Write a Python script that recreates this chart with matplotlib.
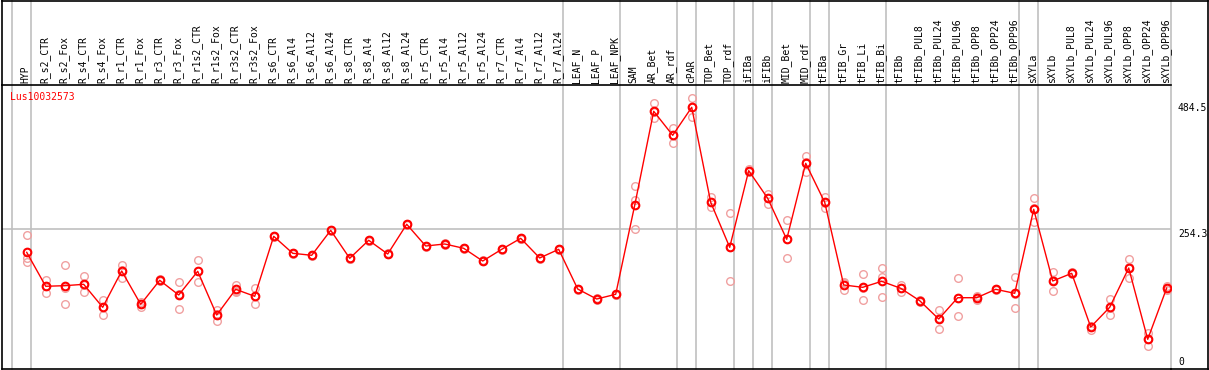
import matplotlib
matplotlib.use('Agg')
import matplotlib.pyplot as plt
import matplotlib.transforms as mtransforms
from matplotlib.lines import Line2D
import numpy as np

gene = 'Lus10032573'

samples = ['HYP', 'R_s2_CTR', 'R_s2_Fox', 'R_s4_CTR', 'R_s4_Fox', 'R_r1_CTR', 'R_r1_Fox',
           'R_r3_CTR', 'R_r3_Fox', 'R_r1s2_CTR', 'R_r1s2_Fox', 'R_r3s2_CTR', 'R_r3s2_Fox',
           'R_s6_CTR', 'R_s6_Al4', 'R_s6_Al12', 'R_s6_Al24', 'R_s8_CTR', 'R_s8_Al4',
           'R_s8_Al12', 'R_s8_Al24', 'R_r5_CTR', 'R_r5_Al4', 'R_r5_Al12', 'R_r5_Al24',
           'R_r7_CTR', 'R_r7_Al4', 'R_r7_Al12', 'R_r7_Al24', 'LEAF_N', 'LEAF_P', 'LEAF_NPK',
           'SAM', 'AR_Bet', 'AR_rdf', 'cPAR', 'TOP_Bet', 'TOP_rdf', 'iFIBa', 'iFIBb',
           'MID_Bet', 'MID_rdf', 'tFIBa', 'tFIB_Gr', 'tFIB_Li', 'tFIB_Bi', 'tFIBb',
           'tFIBb_PUL8', 'tFIBb_PUL24', 'tFIBb_PUL96', 'tFIBb_OPP8', 'tFIBb_OPP24',
           'tFIBb_OPP96', 'sXYLa', 'sXYLb', 'sXYLb_PUL8', 'sXYLb_PUL24', 'sXYLb_PUL96',
           'sXYLb_OPP8', 'sXYLb_OPP24', 'sXYLb_OPP96']

means = [210.7, 148.3, 149.4, 151.9, 109.7, 176.4, 115.2, 159.3, 132.3, 175.8, 95.5,
         142.7, 129.9, 240.1, 208.9, 205.2, 251.1, 199.7, 232.8, 207.6, 262.2, 222.3,
         226.0, 218.1, 194.7, 216.2, 236.4, 200.3, 216.2, 143.3, 124.9, 133.6, 297.1,
         469.8, 425.7, 477.1, 302.6, 219.9, 360.7, 309.9, 234.6, 374.2, 302.6, 150.7,
         146.4, 157.4, 144.6, 121.8, 88.2, 127.3, 127.3, 142.7, 135.4, 289.7, 158.0,
         172.1, 73.5, 109.7, 181.9, 50.9, 145.1]

reps = [[242.5, 199.7, 193.5], [159.8, 136.5, 148.5], [187.4, 115.2, 146], [167.2, 137.2, 151],
        [123.1, 96.1, 110], [186.8, 163.0, 179], [120.0, 109.7, 116], [161, 158, 159],
        [155.6, 106.6, 135], [196.0, 155.6, 176], [104.7, 85.1, 97], [150.7, 137.2, 140],
        [144.6, 115.2, 130], [241, 239, 240], [210, 208, 209], [206, 204, 205],
        [252, 250, 251], [201, 199, 199], [234, 232, 232], [209, 207, 207],
        [263, 261, 262], [223, 221, 222], [227, 225, 226], [219, 217, 218],
        [196, 194, 194], [217, 215, 216], [237, 235, 236], [201, 199, 200],
        [217, 215, 216], [144, 142, 143], [126, 124, 125], [134, 133, 133],
        [332.0, 306.8, 253.0], [484.5, 456.9, 468], [439.7, 411.0, 426], [493.3, 460.0, 478],
        [311.8, 293.4, 303], [282.4, 157.4, 220], [363, 358, 361], [318.5, 299.5, 311],
        [269.5, 199.7, 235], [387.7, 358.9, 376], [312.9, 292.7, 302], [153.8, 141.5, 157],
        [170.3, 122.5, 146], [181.3, 165.9, 128.6], [151.2, 137.2, 145], [124, 120, 121],
        [104.2, 70.4, 90], [163.0, 93.1, 126], [130, 124, 128], [144, 141, 143],
        [164.8, 107.8, 134], [309.9, 267.0, 292], [174.5, 140.2, 159], [175, 170, 172],
        [76, 68, 74], [124.9, 95.5, 109], [197.9, 163.5, 184], [61.9, 39.1, 52],
        [149, 141, 145]]

# last sample of each group (separator lines drawn right after these)
group_ends = [-1, 0, 28, 31, 34, 35, 37, 38, 39, 41, 42, 45, 52, 53, 60]

y_max_label = 484.5
y_mid_label = 254.3

W, H = 1209, 370
fig = plt.figure(figsize=(W / 100, H / 100), dpi=100)
fig.patch.set_facecolor('white')

L, R, T, B = 2, 1171, 85, 369
ax = fig.add_axes([L / W, 1 - B / H, (R - L) / W, (B - T) / H])
ax.set_xlim(-1.3, 60.226)
ax.set_ylim(-3.67, 518.1)
ax.set_xticks([])
ax.set_yticks([])
for s in ['left', 'top', 'bottom']:
    ax.spines[s].set_color('black')
    ax.spines[s].set_linewidth(1.2)
ax.spines['right'].set_visible(False)

font = dict(family='DejaVu Sans Mono', size=7)
x = np.arange(len(samples))
top_ext = (B - 0) / (B - T)

for g in group_ends:
    ax.axvline(g + 0.2, ymin=0, ymax=top_ext, color='#c0c0c0', lw=1.2, clip_on=False, zorder=1)
ax.axhline(y_mid_label, color='#c0c0c0', lw=1.2, zorder=1)

trans = mtransforms.blended_transform_factory(ax.transData, ax.transAxes)
for xi, name in zip(x, samples):
    ax.text(xi - 0.05, 1 + 2 / (B - T), name, transform=trans, rotation=90,
            ha='center', va='bottom', **font)

for xi, r in zip(x, reps):
    ax.plot([xi] * len(r), r, 'o', ms=5.5, mfc='none', mec='#f0a0a0', mew=1.0, zorder=2)
ax.plot(x, means, '-', color='red', lw=1, zorder=3)
ax.plot(x, means, 'o', ms=5.5, mfc='none', mec='red', mew=1.5, zorder=4)

ax.text(8 / (R - L), 1 - 7 / (B - T), gene, transform=ax.transAxes, color='red',
        ha='left', va='top', **font)

ytrans = mtransforms.blended_transform_factory(ax.transAxes, ax.transData)
lx = 1 + 7 / (R - L)
ax.text(lx, y_max_label, '484.5', transform=ytrans, ha='left', va='top', **font)
ax.text(lx, y_mid_label, '254.3', transform=ytrans, ha='left', va='top', **font)
ax.text(lx, 0, '0', transform=ytrans, ha='left', va='bottom', **font)

# outer frame
fig.add_artist(Line2D([L / W, 1 - 1.5 / W], [1 - 0.5 / H, 1 - 0.5 / H], color='black', lw=1.2, transform=fig.transFigure))
fig.add_artist(Line2D([L / W, L / W], [1 - T / H, 1], color='black', lw=1.2, transform=fig.transFigure))
fig.add_artist(Line2D([1 - 1.5 / W, 1 - 1.5 / W], [1 - B / H, 1], color='black', lw=1.2, transform=fig.transFigure))
fig.add_artist(Line2D([R / W, 1], [1 - B / H, 1 - B / H], color='black', lw=1.2, transform=fig.transFigure))

fig.savefig('out.png', dpi=100)
